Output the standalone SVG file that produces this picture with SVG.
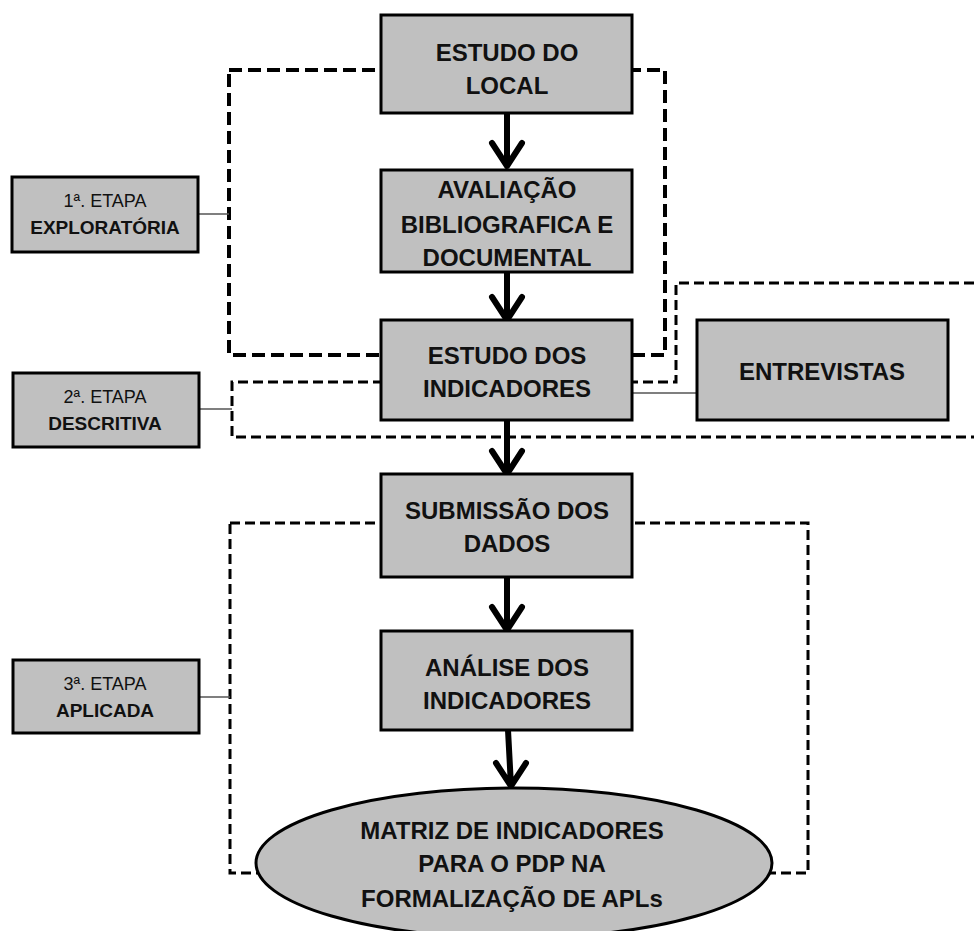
<svg xmlns="http://www.w3.org/2000/svg" width="974" height="931" viewBox="0 0 974 931">
<style>
.box{fill:#c0c0c0;stroke:#000;stroke-width:3}
.t{font-family:"Liberation Sans",Arial,sans-serif;font-weight:bold;font-size:24px;fill:#111;text-anchor:middle}
.s{font-family:"Liberation Sans",Arial,sans-serif;font-size:18px;fill:#111;text-anchor:middle}
.sb{font-weight:bold;font-size:19px}
.arrow{fill:none;stroke:#000;stroke-width:6;stroke-linecap:round;stroke-linejoin:round}
.link{fill:none;stroke:#555;stroke-width:1.5}
.d1{fill:none;stroke:#000;stroke-width:4;stroke-dasharray:13 6}
.d2{fill:none;stroke:#000;stroke-width:3;stroke-dasharray:10 5}
</style>
<rect width="974" height="931" fill="#fff"/>
<g id="connectors">
<rect class="d1" x="229" y="70" width="436" height="285"/>
<path class="d2" d="M974 283 H676 V382 H232 V437 H974"/>
<rect class="d2" x="230" y="523" width="578" height="350"/>
<line class="link" x1="198" y1="214" x2="229" y2="214"/>
<line class="link" x1="199" y1="409" x2="232" y2="409"/>
<line class="link" x1="199" y1="697" x2="230" y2="697"/>
<line class="link" x1="632" y1="393" x2="697" y2="393"/>
<path class="arrow" d="M507 113 V166 M492 143 L507 166 L522 143"/>
<path class="arrow" d="M507 272 V320 M492 297 L507 320 L522 297"/>
<path class="arrow" d="M507 420 V474 M492 451 L507 474 L522 451"/>
<path class="arrow" d="M507 577 V630 M492 607 L507 630 L522 607"/>
<path class="arrow" d="M508 730 L511 786 M496 763 L511 786 L526 763"/>
</g>
<g id="estudo-local">
<rect class="box" x="381" y="15" width="251" height="98"/>
<text class="t" x="507" y="61">ESTUDO DO</text>
<text class="t" x="507" y="94">LOCAL</text>
</g>
<g id="avaliacao">
<rect class="box" x="381" y="170" width="251" height="102"/>
<text class="t" x="507" y="198">AVALIAÇÃO</text>
<text class="t" x="507" y="233">BIBLIOGRAFICA E</text>
<text class="t" x="507" y="266">DOCUMENTAL</text>
</g>
<g id="estudo-indicadores">
<rect class="box" x="381" y="320" width="251" height="100"/>
<text class="t" x="507" y="364">ESTUDO DOS</text>
<text class="t" x="507" y="397">INDICADORES</text>
</g>
<g id="entrevistas">
<rect class="box" x="697" y="320" width="251" height="100"/>
<text class="t" x="822" y="380">ENTREVISTAS</text>
</g>
<g id="submissao">
<rect class="box" x="381" y="474" width="251" height="103"/>
<text class="t" x="507" y="519">SUBMISSÃO DOS</text>
<text class="t" x="507" y="552">DADOS</text>
</g>
<g id="analise">
<rect class="box" x="381" y="631" width="251" height="99"/>
<text class="t" x="507" y="676">ANÁLISE DOS</text>
<text class="t" x="507" y="709">INDICADORES</text>
</g>
<g id="matriz">
<ellipse class="box" cx="514" cy="863" rx="258" ry="75"/>
<text class="t" x="512" y="839">MATRIZ DE INDICADORES</text>
<text class="t" x="512" y="872">PARA O PDP NA</text>
<text class="t" x="512" y="907">FORMALIZAÇÃO DE APLs</text>
</g>
<g id="etapa1">
<rect class="box" x="12" y="177" width="186" height="75"/>
<text class="s" x="105" y="207">1ª. ETAPA</text>
<text class="s sb" x="105" y="234">EXPLORATÓRIA</text>
</g>
<g id="etapa2">
<rect class="box" x="13" y="373" width="186" height="74"/>
<text class="s" x="105" y="403">2ª. ETAPA</text>
<text class="s sb" x="105" y="430">DESCRITIVA</text>
</g>
<g id="etapa3">
<rect class="box" x="13" y="660" width="186" height="73"/>
<text class="s" x="105" y="690">3ª. ETAPA</text>
<text class="s sb" x="105" y="717">APLICADA</text>
</g>
</svg>
